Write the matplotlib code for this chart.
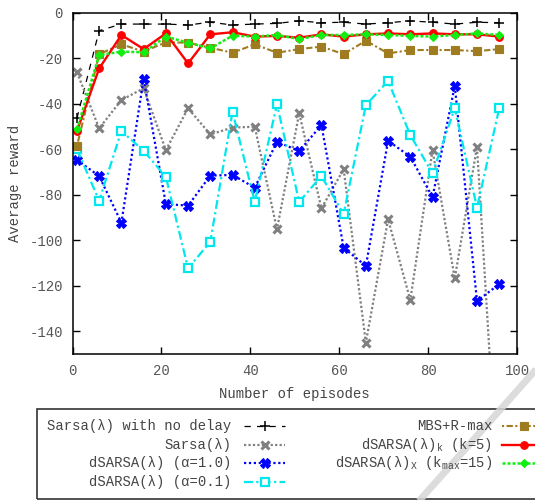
import matplotlib
matplotlib.use('Agg')
import matplotlib.pyplot as plt
from matplotlib.lines import Line2D
from matplotlib.patches import Rectangle

plt.rcParams['font.family'] = ['Liberation Mono', 'DejaVu Sans Mono']
plt.rcParams['mathtext.fontset'] = 'custom'
plt.rcParams['mathtext.rm'] = 'Liberation Mono'
plt.rcParams['mathtext.it'] = 'Liberation Mono'
plt.rcParams['axes.unicode_minus'] = False

episodes = [1, 6, 11, 16, 21, 26, 31, 36, 41, 46, 51, 56, 61, 66, 71, 76, 81, 86, 91, 96]

sarsa_no_delay = [-46.4, -7.9, -5.0, -5.0, -5.0, -5.4, -4.2, -5.4, -5.0, -4.7,
                  -3.6, -4.4, -4.2, -5.0, -4.4, -3.6, -4.2, -5.0, -4.2, -4.4]
sarsa = [-26.2, -50.8, -38.4, -33.2, -60.4, -42.0, -53.5, -50.5, -50.1, -95.2,
         -44.2, -86.0, -68.8, -145.0, -90.8, -126.3, -60.4, -116.8, -58.9, -220.0]
dsarsa_a10 = [-64.7, -71.8, -92.3, -29.1, -84.1, -84.8, -71.6, -71.3, -76.9, -56.7,
              -60.8, -49.4, -103.3, -111.3, -56.3, -63.3, -81.1, -32.1, -126.7, -119.3]
dsarsa_a01 = [-60.0, -82.6, -52.0, -60.7, -72.1, -112.4, -100.7, -43.5, -83.1, -40.3,
              -83.1, -71.8, -88.5, -40.6, -30.0, -53.8, -70.6, -42.0, -85.7, -42.0]
mbs_rmax = [-58.6, -18.2, -13.9, -17.1, -13.0, -13.2, -15.4, -17.6, -13.9, -17.6,
            -16.0, -14.9, -18.2, -12.3, -17.9, -16.4, -16.4, -16.4, -16.9, -16.0]
dsarsa_k5 = [-52.0, -24.5, -9.8, -16.0, -9.1, -22.3, -9.5, -8.6, -10.5, -10.2,
             -11.0, -9.5, -10.5, -9.5, -9.1, -9.5, -9.1, -9.5, -9.5, -10.5]
dsarsa_x15 = [-51.3, -18.6, -17.1, -17.4, -10.5, -13.2, -15.7, -10.1, -10.5, -9.8,
              -11.6, -9.8, -9.8, -9.5, -9.8, -10.2, -10.5, -9.8, -9.1, -9.8]

labels = ['Sarsa(λ) with no delay', 'Sarsa(λ)', 'dSARSA(λ) (α=1.0)', 'dSARSA(λ) (α=0.1)',
          'MBS+R-max', r'dSARSA(λ)$_\mathrm{k}$ (k=5)', r'dSARSA(λ)$_\mathrm{X}$ (k$_\mathrm{max}$=15)']

styles = [
    dict(color='black', ls=(0, (5, 5)), lw=0.9, marker='+', ms=7, mew=1.1),
    dict(color='#808080', ls=(0, (1, 1)), lw=1.6, marker='x', ms=5.5, mew=2.2),
    dict(color='#0000ff', ls=(0, (1, 1.2)), lw=1.6, marker='X', ms=7, mew=0.8),
    dict(color='#00e8ee', ls=(0, (4, 1.5, 1, 1.5)), lw=1.6, marker='s', ms=6, mew=1.6, mfc='white'),
    dict(color='#a07c20', ls=(0, (1, 1.2, 3, 1.2)), lw=1.5, marker='s', ms=5.5, mew=0.8),
    dict(color='#ff0000', ls='-', lw=1.7, marker='o', ms=5.5, mew=0.8),
    dict(color='#11ee11', ls=(0, (1.2, 0.8)), lw=1.8, marker='D', ms=4.5, mew=0.8),
]
series = [sarsa_no_delay, sarsa, dsarsa_a10, dsarsa_a01, mbs_rmax, dsarsa_k5, dsarsa_x15]

W, H = 535, 500
fig = plt.figure(figsize=(W / 100, H / 100), dpi=100)
ax = fig.add_axes([72.5 / W, 1 - 354 / H, (517 - 72.5) / W, (354 - 12.7) / H])

for ys, st in zip(series, styles):
    ax.plot(episodes, ys, **st)

ax.set_xlim(0, 100)
ax.set_ylim(-150, 0)
ax.set_xticks(range(0, 101, 20))
ax.set_yticks(range(-140, 1, 20))
ax.tick_params(direction='in', length=5, width=1, top=True, right=True,
               labelsize=10, labelcolor='#555555', pad=7)
for s in ax.spines.values():
    s.set_linewidth(1.1)
ax.set_xlabel('Number of episodes', fontsize=10, color='#444444', labelpad=7)
ax.set_ylabel('Average reward', fontsize=10, color='#444444', labelpad=5)


def fx(x):
    return x / W


def fy(y):
    return 1 - y / H


# legend box, drawn by hand in gnuplot style
fig.add_artist(Rectangle((fx(37), fy(499)), fx(560) - fx(37), fy(409) - fy(499),
                         transform=fig.transFigure, fill=False, ec='#333333', lw=1.2))
rows = [426, 444.7, 463.3, 482]
cols = [(231, 244, 285), (492, 502, 545)]
slots = [(0, 0), (0, 1), (0, 2), (0, 3), (1, 0), (1, 1), (1, 2)]
for lab, st, (c, r) in zip(labels, styles, slots):
    tx, x0, x1 = cols[c]
    y = rows[r]
    fig.text(fx(tx), fy(y + 4), lab, ha='right', va='baseline', fontsize=10, color='#444444')
    lst = {k: v for k, v in st.items() if k not in ('marker', 'ms', 'mew', 'mfc')}
    fig.add_artist(Line2D([fx(x0), fx(x1)], [fy(y), fy(y)], transform=fig.transFigure, **lst))
    fig.add_artist(Line2D([fx((x0 + x1) / 2)], [fy(y)], transform=fig.transFigure,
                          color=st['color'], marker=st['marker'], ms=st['ms'],
                          mew=st['mew'], mfc=st.get('mfc', st['color']), ls='none'))

# light grey streak across the lower right corner of the scan
fig.add_artist(Line2D([fx(548), fx(411)], [fy(356), fy(510)], transform=fig.transFigure,
                      color='#d6d6d6', lw=5, alpha=0.85, solid_capstyle='butt'))

fig.savefig('out.png', dpi=100)
